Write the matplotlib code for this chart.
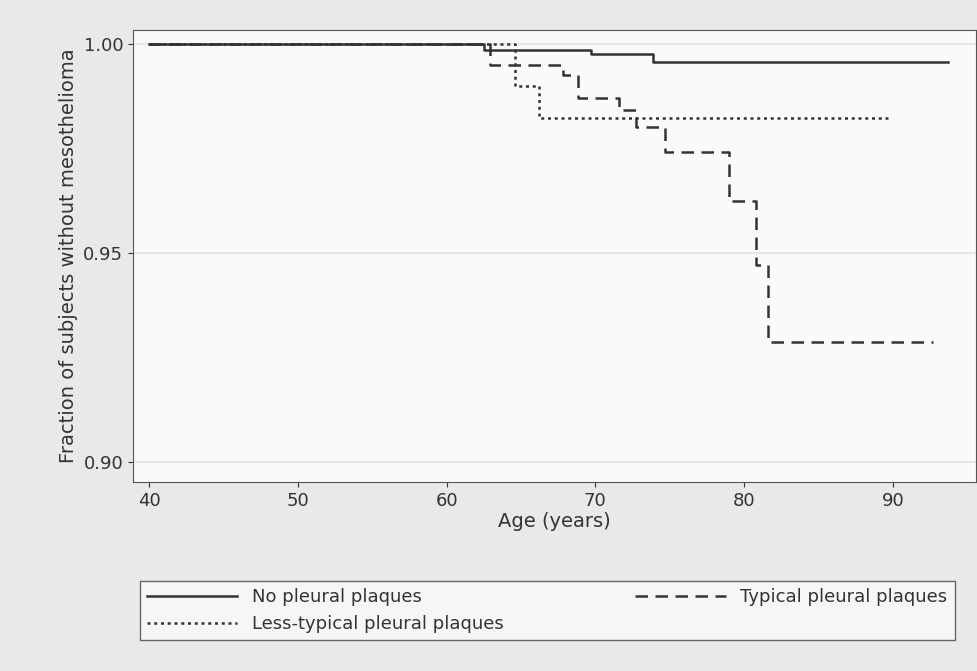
import matplotlib
matplotlib.use("Agg")
import matplotlib.pyplot as plt

no_x = [40, 62.5, 69.7, 73.9, 93.7]
no_y = [1.0, 0.9986, 0.9976, 0.9958, 0.9958]
typ_x = [40, 62.95, 67.8, 68.8, 71.6, 72.7, 74.7, 79.0, 80.8, 81.6, 92.7]
typ_y = [1.0, 0.9951, 0.9926, 0.9871, 0.9842, 0.9801, 0.9742, 0.9625, 0.9471, 0.9288, 0.9288]
less_x = [40, 64.6, 66.2, 89.9]
less_y = [1.0, 0.990, 0.9823, 0.9823]

fig = plt.figure(figsize=(9.78, 6.71), dpi=100, facecolor="#e9e9e9")
ax = fig.add_axes([0.136, 0.282, 0.862, 0.673], facecolor="#fafafa")
l1, = ax.step(no_x, no_y, where="post", color="#333333", lw=1.8)
l3, = ax.step(less_x, less_y, where="post", color="#333333", lw=1.8, ls=(0, (1.2, 1.5)))
l2, = ax.step(typ_x, typ_y, where="post", color="#333333", lw=1.8, ls=(0, (5, 3)))
ax.set_xlim(38.92, 95.59)
ax.set_ylim(0.89522, 1.00335)
ax.set_xticks([40, 50, 60, 70, 80, 90])
ax.set_yticks([0.90, 0.95, 1.00])
ax.set_yticklabels(["0.90", "0.95", "1.00"])
ax.yaxis.grid(True, color="#e6e6e6", lw=1.5)
for s in ax.spines.values():
    s.set_color("#555555")
ax.tick_params(labelsize=13, colors="#333333")
ax.set_xlabel("Age (years)", fontsize=14, color="#333333", labelpad=2)
ax.set_ylabel("Fraction of subjects without mesothelioma", fontsize=14, color="#333333")
leg = fig.legend([l1, l3, l2], ["No pleural plaques", "Less-typical pleural plaques", "Typical pleural plaques"],
                 loc="lower left", bbox_to_anchor=(0.143, 0.046, 0.833, 0.127), mode="expand",
                 ncol=2, fontsize=13, frameon=True, fancybox=False, handlelength=5,
                 borderaxespad=0, labelcolor="#333333")
leg.get_frame().set_edgecolor("#444444")
leg.get_frame().set_facecolor("#fafafa")
fig.savefig("out.png", dpi=100, facecolor=fig.get_facecolor())
